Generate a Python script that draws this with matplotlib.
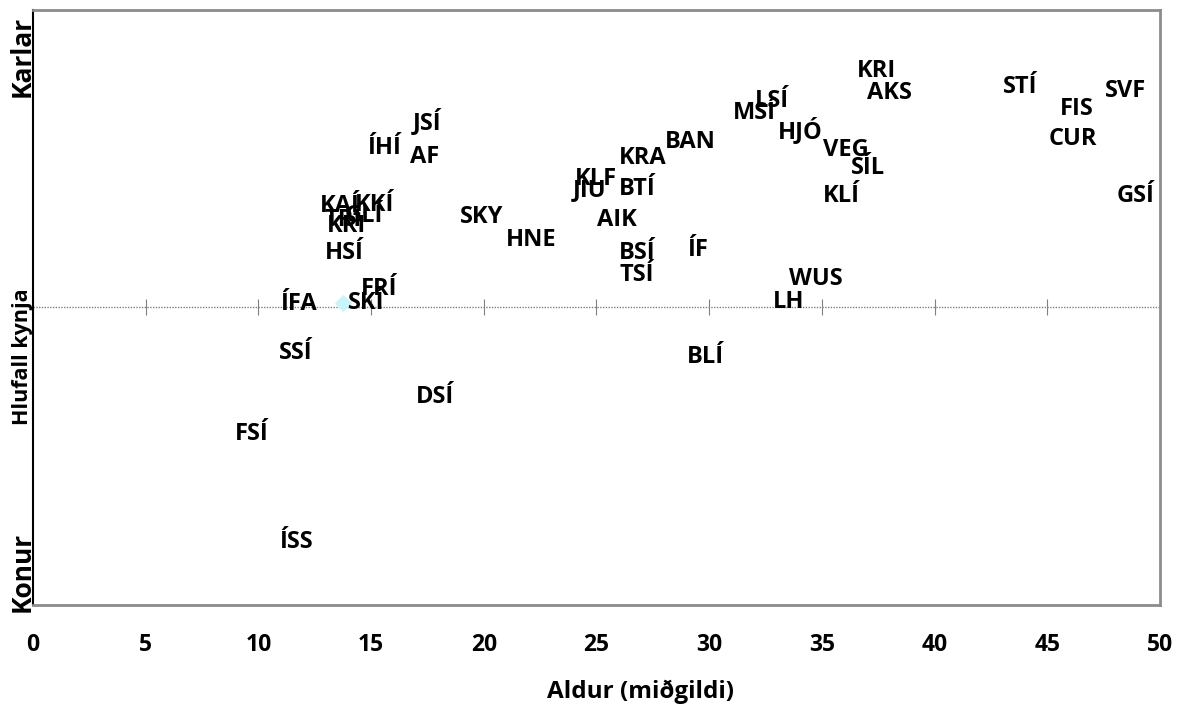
import matplotlib.pyplot as plt

plt.rcParams['font.family'] = ['Open Sans', 'DejaVu Sans']

# median age (x) and gender ratio (y, 0 = women, 1 = men) per group
labels = ['ÍFA', 'SKÍ', 'FRÍ', 'HSÍ', 'KAÍ', 'KKÍ', 'GLÍ', 'TRÍ', 'KRI',
          'ÍHÍ', 'JSÍ', 'AF', 'SKY', 'HNE', 'KLF', 'JIU', 'KRA', 'BTÍ',
          'AIK', 'BSÍ', 'TSÍ', 'ÍF', 'BAN', 'MSÍ', 'LSÍ', 'HJÓ', 'BLÍ',
          'LH', 'WUS', 'KRI', 'AKS', 'VEG', 'SÍL', 'KLÍ', 'STÍ', 'SVF',
          'FIS', 'CUR', 'GSÍ', 'SSÍ', 'FSÍ', 'ÍSS', 'DSÍ']
aldur = [10.74, 13.75, 14.33, 12.73, 12.51, 14.06, 13.62, 12.73, 12.82,
         14.60, 16.64, 16.50, 18.72, 20.76, 23.82, 23.74, 25.78, 25.78,
         24.80, 25.78, 25.82, 28.79, 27.82, 30.83, 31.81, 32.83, 28.79,
         32.61, 33.32, 36.34, 36.78, 34.83, 36.07, 34.83, 42.81, 47.34,
         45.34, 44.85, 47.87, 10.69, 8.74, 10.69, 16.77]
hlutfall = [0.506, 0.508, 0.531, 0.592, 0.671, 0.672, 0.654, 0.647, 0.637,
            0.768, 0.813, 0.753, 0.652, 0.613, 0.716, 0.697, 0.751, 0.699,
            0.647, 0.592, 0.555, 0.597, 0.778, 0.827, 0.847, 0.798, 0.417,
            0.509, 0.548, 0.897, 0.861, 0.765, 0.734, 0.687, 0.871, 0.864,
            0.834, 0.783, 0.687, 0.424, 0.287, 0.106, 0.350]
x_ticks = [0, 5, 10, 15, 20, 25, 30, 35, 40, 45, 50]

fig = plt.figure(figsize=(11.84, 7.09), dpi=100)
ax = fig.add_axes([0.0279, 0.1467, 0.9518, 0.8392])

# dotted middle line (equal split)
ax.axhline(0.5, color='#808080', lw=1, ls=(0, (1, 1)), zorder=1)

# only one marker is visible in the original
i = labels.index('SKÍ')
ax.scatter([aldur[i]], [hlutfall[i]], marker='D', s=60, color='#c9f4fa', zorder=2)

for lab, x, y in zip(labels, aldur, hlutfall):
    ax.annotate(lab, (x, y), xytext=(3.5, 0), textcoords='offset points',
                ha='left', va='center', fontsize=17, fontweight='bold', zorder=3)

ax.set_xlim(0, 50)
ax.set_ylim(0, 1)
ax.set_xticks(x_ticks)
ax.set_xticklabels([str(t) for t in x_ticks], fontsize=16.5, fontweight='bold')
ax.tick_params(axis='x', length=0, pad=20)
ax.set_yticks([])

for side in ['top', 'right', 'bottom']:
    ax.spines[side].set_color('#8c8c8c')
    ax.spines[side].set_linewidth(2)
ax.spines['left'].set_color('black')
ax.spines['left'].set_linewidth(1.5)

# tick marks on the middle line
mid = ax.secondary_xaxis(0.5)
for side in mid.spines:
    mid.spines[side].set_visible(False)
mid.set_xticks(x_ticks)
mid.set_xticklabels([])
mid.tick_params(direction='inout', length=11, color='#808080', width=0.8,
                labeltop=False, labelbottom=False)

fig.text(0.019, 0.92, 'Karlar', rotation=90, ha='center', va='center',
         fontsize=19, fontweight='bold')
fig.text(0.019, 0.193, 'Konur', rotation=90, ha='center', va='center',
         fontsize=19, fontweight='bold')
fig.text(0.019, 0.497, 'Hlufall kynja', rotation=90, ha='center', va='center',
         fontsize=15.5, fontweight='bold')
fig.text(0.541, 0.024, 'Aldur (miðgildi)', ha='center', va='center',
         fontsize=17.5, fontweight='bold')

fig.savefig('out.png', dpi=100)
